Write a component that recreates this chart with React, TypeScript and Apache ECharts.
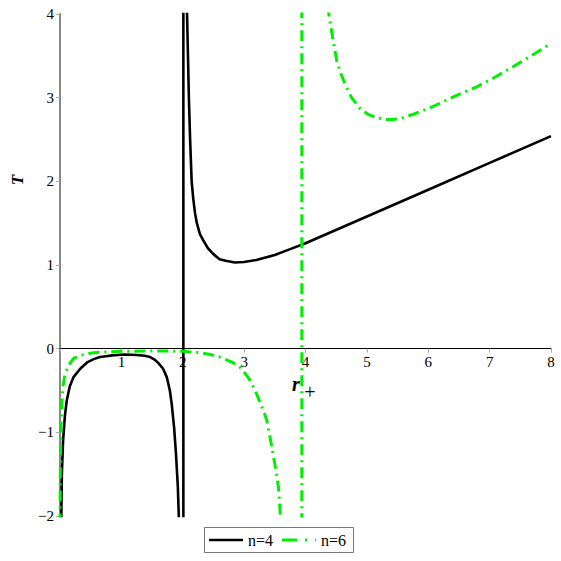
import React, { useEffect, useRef } from "react";
import * as echarts from "echarts";

const xTicks = [0, 1, 2, 3, 4, 5, 6, 7, 8];
const yTicks = [-2, -1, 0, 1, 2, 3, 4];
const legendNames = ["n=4", "n=6"];

const n4Left: [number, number][] = [
  [0.02, -2.1], [0.03, -1.5], [0.05, -1.1], [0.08, -0.8], [0.11, -0.62], [0.16, -0.45],
  [0.22, -0.34], [0.33, -0.24], [0.45, -0.16], [0.55, -0.125], [0.65, -0.1], [0.75, -0.09],
  [0.85, -0.08], [1.05, -0.07], [1.25, -0.075], [1.38, -0.085], [1.47, -0.1], [1.54, -0.13],
  [1.6, -0.17], [1.68, -0.24], [1.74, -0.34], [1.79, -0.5], [1.82, -0.66], [1.86, -0.95],
  [1.89, -1.26], [1.92, -1.65], [1.94, -2.1],
];
const n4Right: [number, number][] = [
  [2.065, 4.1], [2.07, 4.0], [2.085, 3.5], [2.1, 3.0], [2.12, 2.5], [2.145, 2.0], [2.17, 1.8],
  [2.2, 1.62], [2.23, 1.5], [2.28, 1.37], [2.33, 1.3], [2.41, 1.2], [2.5, 1.13], [2.6, 1.07],
  [2.7, 1.05], [2.85, 1.03], [3.0, 1.035], [3.2, 1.06], [3.5, 1.12], [3.75, 1.19], [4.0, 1.26],
  [5.0, 1.58], [6.0, 1.9], [7.0, 2.22], [8.0, 2.54],
];
const n4Asym: [number, number][] = [[2.01, -2.1], [2.01, 4.1]];

const n6Left: [number, number][] = [
  [0.0, -2.1], [0.005, -1.5], [0.016, -0.9], [0.03, -0.65], [0.05, -0.45], [0.07, -0.35],
  [0.1, -0.27], [0.16, -0.18], [0.22, -0.12], [0.3, -0.09], [0.43, -0.06], [0.55, -0.05],
  [0.7, -0.04], [1.0, -0.032], [1.5, -0.028], [2.0, -0.03], [2.3, -0.05], [2.45, -0.07],
  [2.6, -0.1], [2.7, -0.13], [2.8, -0.16], [2.93, -0.22], [3.0, -0.28], [3.08, -0.36],
  [3.13, -0.43], [3.18, -0.5], [3.23, -0.59], [3.28, -0.68], [3.33, -0.77], [3.37, -0.86],
  [3.42, -1.05], [3.47, -1.26], [3.52, -1.46], [3.56, -1.66], [3.6, -2.1],
];
const n6Asym: [number, number][] = [[3.94, -2.1], [3.94, 4.1]];
const n6Right: [number, number][] = [
  [4.36, 4.1], [4.39, 3.95], [4.42, 3.82], [4.46, 3.64], [4.51, 3.44], [4.57, 3.3], [4.64, 3.17],
  [4.75, 3.0], [4.89, 2.87], [5.02, 2.8], [5.16, 2.76], [5.3, 2.74], [5.43, 2.74], [5.6, 2.76],
  [5.75, 2.8], [6.0, 2.87], [6.24, 2.95], [6.5, 3.04], [6.79, 3.13], [7.1, 3.25], [7.38, 3.37],
  [7.7, 3.51], [8.0, 3.65],
];

const FONT = "Liberation Serif";
const GREEN = "#00ee00";
const DASHDOT = [11, 5, 2, 5];

export default function App() {
  const ref = useRef<HTMLDivElement>(null);
  useEffect(() => {
    document.body.style.margin = "0";
    if (!ref.current) return;
    const chart = echarts.init(ref.current, undefined, { renderer: "svg" });
    const blackLine = { color: "#000", width: 2.6 };
    const greenLine = { color: GREEN, width: 3, type: DASHDOT };
    const mk = (name: string, data: [number, number][], ls: any) => ({
      type: "line",
      name,
      data,
      showSymbol: false,
      symbol: "none",
      smooth: false,
      clip: true,
      lineStyle: ls,
      itemStyle: { color: ls.color },
      z: 3,
    });
    const gridTop = 14;
    const gridBottom = 45;
    const plotH = 561 - gridTop - gridBottom;
    const zeroOffset = -(plotH * (0 - yTicks[0])) / (yTicks[yTicks.length - 1] - yTicks[0]);
    const rich = {
      t: { fontFamily: FONT, fontSize: 15, color: "#000" },
    };
    chart.setOption({
      animation: false,
      textStyle: { fontFamily: FONT },
      grid: { left: 60, right: 10, top: gridTop, bottom: gridBottom, containLabel: false },
      xAxis: {
        type: "value",
        min: xTicks[0],
        max: xTicks[xTicks.length - 1],
        interval: 1,
        offset: zeroOffset,
        axisLine: { onZero: false, lineStyle: { color: "#000", width: 1 } },
        axisTick: { show: true, length: 4, lineStyle: { color: "#aaa" } },
        axisLabel: {
          fontFamily: FONT,
          fontSize: 15,
          color: "#000",
          margin: 6,
          rich,
          formatter: (v: number) => (v === 0 ? "" : `{t|${v}}`),
        },
        splitLine: { show: false },
        z: 1,
      },
      yAxis: {
        type: "value",
        min: yTicks[0],
        max: yTicks[yTicks.length - 1],
        interval: 1,
        axisLine: { show: true, onZero: false, lineStyle: { color: "#888", width: 2 } },
        axisTick: { show: true, length: 4, lineStyle: { color: "#aaa" } },
        axisLabel: {
          fontFamily: FONT,
          fontSize: 15,
          color: "#000",
          margin: 6,
          rich,
          formatter: (v: number) => `{t|${String(v).replace("-", "\u2212")}}`,
        },
        splitLine: { show: false },
      },
      graphic: [
        {
          type: "text",
          x: 17,
          y: 180,
          rotation: Math.PI / 2,
          z: 10,
          style: {
            text: "T",
            font: `italic bold 17px ${FONT}`,
            fill: "#000",
            align: "center",
            verticalAlign: "middle",
          },
        },
        {
          type: "text",
          x: 296,
          y: 384,
          z: 10,
          style: {
            text: "r",
            font: `italic bold 20px ${FONT}`,
            fill: "#000",
            align: "center",
            verticalAlign: "middle",
          },
        },
        {
          type: "text",
          x: 310,
          y: 392,
          z: 10,
          style: {
            text: "+",
            font: `20px ${FONT}`,
            fill: "#000",
            align: "center",
            verticalAlign: "middle",
          },
        },
        {
          type: "rect",
          z: 10,
          shape: { x: 204.5, y: 527.5, width: 149, height: 25 },
          style: { fill: "#fff", stroke: "#777", lineWidth: 1 },
        },
        {
          type: "line",
          z: 11,
          shape: { x1: 209, y1: 540, x2: 243, y2: 540 },
          style: { stroke: "#000", lineWidth: 2.6 },
        },
        {
          type: "text",
          x: 248,
          y: 540,
          z: 11,
          style: {
            text: legendNames[0],
            font: `16px ${FONT}`,
            fill: "#000",
            align: "left",
            verticalAlign: "middle",
          },
        },
        {
          type: "line",
          z: 11,
          shape: { x1: 282, y1: 540, x2: 316, y2: 540 },
          style: { stroke: GREEN, lineWidth: 3, lineDash: [15, 8, 2, 8] },
        },
        {
          type: "text",
          x: 321,
          y: 540,
          z: 11,
          style: {
            text: legendNames[1],
            font: `16px ${FONT}`,
            fill: "#000",
            align: "left",
            verticalAlign: "middle",
          },
        },
      ],
      series: [
        mk(legendNames[0], n4Left, blackLine),
        mk(legendNames[0], n4Asym, blackLine),
        mk(legendNames[0], n4Right, blackLine),
        mk(legendNames[1], n6Left, greenLine),
        mk(legendNames[1], n6Asym, greenLine),
        mk(legendNames[1], n6Right, greenLine),
      ],
    });
    return () => chart.dispose();
  }, []);
  return <div ref={ref} style={{ width: 561, height: 561 }} />;
}
